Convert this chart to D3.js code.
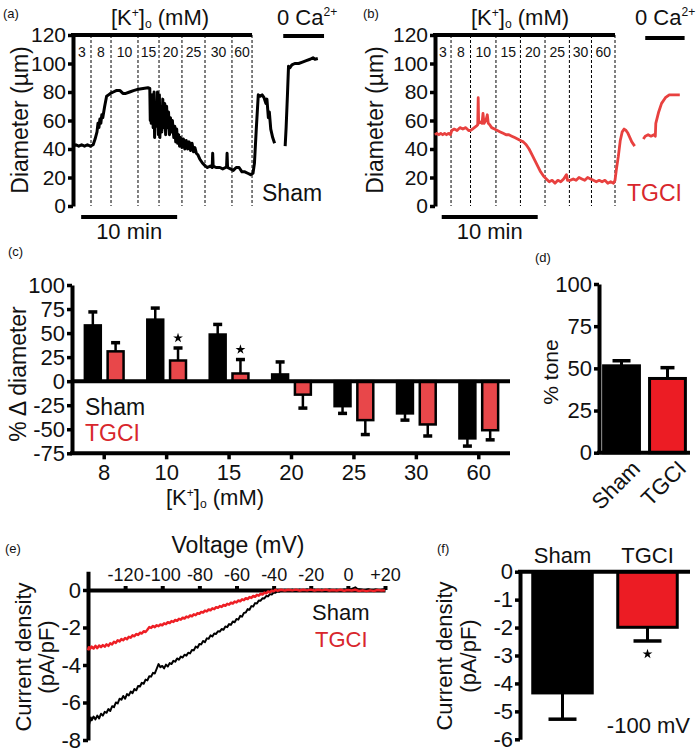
<!DOCTYPE html>
<html><head><meta charset="utf-8">
<script src="https://cdn.jsdelivr.net/npm/d3@7"></script>
<style>body{margin:0;background:#fff} text{font-family:Arial,"Liberation Sans",Helvetica,sans-serif}</style>
</head><body><svg id="c" width="700" height="752"></svg>
<script>
// ---------------- DATA ----------------
const kLabels = ["3","8","10","15","20","25","30","60"];
const kSwitchA = [1.875, 3.96, 6.77, 8.96, 11.35, 13.75, 16.56, 18.65];
const kSwitchB = [1.67, 3.7, 6.35, 8.9, 11.46, 14.0, 16.3, 18.75];
const caBarA = [21.9, 26.15];
const caBarB = [21.9, 26.0];
const tenMinA = [0.85, 10.85];
const tenMinB = [0.7, 10.7];
const diamTicks = [0,20,40,60,80,100,120];

// time (min), diameter (µm); null = gap
const shamTrace = [[0,42],[0.3,43],[0.6,42],[0.9,43],[1.2,42],[1.5,43],[1.8,42],[2.1,43],
 [2.3,47],[2.5,52],[2.6,58],[2.7,55],[2.8,61],[2.9,58],[3.0,64],[3.1,62],[3.3,70],[3.5,77],[3.7,78],[3.9,79],[4.2,80],[4.5,81],[4.9,81],[5.2,79],[5.5,79],[5.9,80],[6.3,81],[6.8,82],[7.3,82.5],[7.8,83],[8.0,82.5],
 [8.05,60],[8.1,75],[8.15,58],[8.25,78],[8.35,55],[8.45,80],[8.5,48],[8.6,72],[8.7,56],[8.8,80],[8.9,50],[9.0,78],[9.05,48],[9.15,70],[9.25,52],[9.35,75],[9.45,55],[9.55,72],[9.65,50],[9.75,70],[9.85,55],[9.95,66],[10.05,50],[10.15,62],[10.25,52],[10.35,60],[10.5,48],[10.6,56],[10.7,45],[10.8,54],[10.9,44],[11.0,50],[11.1,42],[11.2,48],[11.35,41],[11.5,47],[11.65,40],[11.8,46],[11.95,40],[12.1,45],[12.25,39],[12.4,44],[12.55,38],[12.7,41],[12.85,37],[13.0,36],[13.2,33],[13.5,30],[13.8,28],[14.0,27],[14.3,28],[14.5,27],[14.55,37],[14.6,28],[14.9,27],[15.3,27],[15.6,26],[15.9,27],[16.0,28],[16.05,37],[16.1,27],[16.4,26],[16.7,25],[17.0,27],[17.3,27],[17.6,24],[17.9,24],[18.2,23],[18.5,22],[18.75,23],[18.9,30],[19.1,55],[19.3,78],[19.5,77],[19.7,78],[19.9,76],[20.1,72],[20.2,75],[20.35,62],[20.45,66],[20.6,54],[20.8,48],[21.0,44],
 null,
 [22.1,42],[22.2,55],[22.35,80],[22.45,98],[22.6,97],[22.8,99],[23.1,100],[23.5,100],[23.9,101],[24.3,102],[24.7,103],[25.0,104],[25.2,103],[25.5,103.5]];

const tgciTrace = [[0,50],[0.2,51],[0.4,50],[0.6,51],[0.8,50],[1.0,51],[1.2,50],[1.4,51],[1.6,50],[1.75,53],[2.0,54],[2.3,53],[2.6,55],[2.9,54],[3.2,55],[3.5,53],[3.7,53],[3.9,54],[4.1,55],[4.3,56],[4.45,57],[4.5,76],[4.55,58],[4.7,59],[4.9,58],[5.0,65],[5.1,58],[5.3,60],[5.45,64],[5.55,58],[5.7,57],[5.9,55],[6.2,54],[6.5,53],[6.8,52],[7.1,51],[7.4,50],[7.7,50],[8.0,49],[8.3,48],[8.6,47],[8.9,46],[9.2,45],[9.5,43],[9.8,40],[10.1,36],[10.4,32],[10.7,28],[11.0,24],[11.3,21],[11.6,19],[11.9,17],[12.2,18],[12.5,16],[12.8,18],[13.1,17],[13.4,19],[13.7,22],[13.8,18],[14.1,18],[14.4,19],[14.7,18],[15.0,20],[15.3,19],[15.6,18],[15.9,20],[16.2,19],[16.5,18],[16.8,17],[17.1,18],[17.4,17],[17.7,18],[18.0,16],[18.3,17],[18.6,16],[18.75,18],[18.9,26],[19.1,35],[19.3,46],[19.5,52],[19.7,54],[19.9,53],[20.1,51],[20.3,48],[20.5,45],[20.8,42],
 null,
 [21.7,47],[21.9,49],[22.2,50],[22.5,49],[22.8,50],[22.95,49],[23.0,58],[23.3,66],[23.6,72],[24.0,76],[24.4,78],[24.8,78],[25.2,78],[25.5,78]];

// panel c
const kCats = ["8","10","15","20","25","30","60"];
const groups = ["Sham","TGCI"];
const shamDelta = [58, 64, 48.5, 7, -26, -33.5, -59.5];
const shamDeltaErr = [14, 12, 10.5, 13, 7.5, 7, 8];
const tgciDelta = [31, 21.5, 8, -14, -40.5, -45, -51];
const tgciDeltaErr = [9, 13, 14.5, 14, 15, 12, 10];
const tgciStar = ["10","15"];
const deltaTicks = [-75,-50,-25,0,25,50,75,100];

// panel d
const toneVals = [51.5, 44];
const toneErr = [3, 6.4];
const toneTicks = [0,25,50,75,100];

// panel e  (mV, pA/pF)
const ivSham = [[-140,-7.55],[-139.5,-7.2],[-139,-7.0],[-138.5,-6.8],[-138,-6.95],[-137,-6.75],[-136,-6.9],[-135,-6.7],[-134,-6.85],[-133,-6.6],[-132,-6.7],[-131,-6.5],[-130,-6.55],[-129,-6.35],[-128,-6.45],[-127,-6.2],[-126,-6.25],[-125,-6.0],[-124,-6.05],[-123,-5.8],[-122,-5.85],[-121,-5.65],[-120,-5.8],[-119,-5.55],[-118,-5.62],[-117,-5.42],[-116,-5.5],[-115,-5.28],[-114,-5.35],[-113,-5.12],[-112,-5.15],[-111,-4.95],[-110,-5.0],[-109,-4.78],[-108,-4.82],[-107,-4.6],[-106,-4.62],[-105,-4.42],[-104,-4.45],[-103,-4.2],[-102,-3.95],[-101,-4.12],[-100,-4.05],[-99,-4.18],[-98,-3.98],[-97,-4.08],[-96,-3.9],[-95,-3.95],[-94,-3.78],[-93,-3.82],[-92,-3.65],[-91,-3.72],[-90,-3.55],[-89,-3.6],[-88,-3.45],[-87,-3.5],[-86,-3.35],[-85,-3.38],[-84,-3.2],[-83,-3.22],[-82,-3.02],[-81,-3.08],[-80,-2.88],[-79,-2.9],[-78,-2.72],[-77,-2.78],[-76,-2.58],[-75,-2.6],[-74,-2.42],[-73,-2.48],[-72,-2.32],[-71,-2.35],[-70,-2.2],[-69,-2.22],[-68,-2.08],[-67,-2.12],[-66,-1.95],[-65,-1.98],[-64,-1.82],[-63,-1.86],[-62,-1.68],[-61,-1.72],[-60,-1.55],[-59,-1.58],[-58,-1.38],[-57,-1.42],[-56,-1.22],[-55,-1.2],[-54,-1.02],[-53,-1.05],[-52,-0.86],[-51,-0.88],[-50,-0.7],[-49,-0.72],[-48,-0.56],[-47,-0.57],[-46,-0.44],[-45,-0.45],[-44,-0.32],[-43,-0.34],[-42,-0.22],[-41,-0.24],[-40,-0.14],[-39,-0.15],[-38,-0.07],[-37,-0.09],[-36,-0.02],[-35,-0.05],[-34,0.01],[-32,-0.04],[-30,0.02],[-28,-0.03],[-26,0.02],[-24,-0.02],[-22,0.03],[-20,-0.02],[-18,0.02],[-16,-0.03],[-14,0.02],[-12,-0.02],[-10,0.03],[-8,-0.01],[-6,0.02],[-4,-0.02],[-2,0.03],[0,0.0],[2,0.06],[3,0.1],[4,0.14],[5,0.06],[7,0.03],[9,-0.01],[11,0.04],[13,-0.02],[15,0.03],[17,-0.01],[19,0.03],[20,0.02]];
const ivTgci = [[-140,-3.22],[-139.5,-3.05],[-139,-3.15],[-138,-3.02],[-137,-3.12],[-136,-2.98],[-135,-3.1],[-134,-2.96],[-133,-3.05],[-132,-2.94],[-131,-3.02],[-130,-2.9],[-129,-2.98],[-128,-2.84],[-127,-2.9],[-126,-2.76],[-125,-2.82],[-124,-2.68],[-123,-2.74],[-122,-2.62],[-121,-2.68],[-120,-2.56],[-119,-2.62],[-118,-2.5],[-117,-2.54],[-116,-2.42],[-115,-2.47],[-114,-2.35],[-113,-2.4],[-112,-2.28],[-111,-2.32],[-110,-2.2],[-109,-2.24],[-108,-2.12],[-107,-1.98],[-106,-2.02],[-105,-1.92],[-104,-1.98],[-103,-1.88],[-102,-1.93],[-101,-1.84],[-100,-1.88],[-99,-1.78],[-98,-1.82],[-97,-1.72],[-96,-1.76],[-95,-1.66],[-94,-1.7],[-93,-1.6],[-92,-1.64],[-91,-1.54],[-90,-1.58],[-89,-1.48],[-88,-1.52],[-87,-1.42],[-86,-1.46],[-85,-1.36],[-84,-1.4],[-83,-1.3],[-82,-1.34],[-81,-1.24],[-80,-1.27],[-79,-1.17],[-78,-1.2],[-77,-1.1],[-76,-1.14],[-75,-1.04],[-74,-1.08],[-73,-0.98],[-72,-1.02],[-71,-0.92],[-70,-0.95],[-69,-0.86],[-68,-0.9],[-67,-0.8],[-66,-0.84],[-65,-0.74],[-64,-0.78],[-63,-0.68],[-62,-0.72],[-61,-0.62],[-60,-0.66],[-59,-0.56],[-58,-0.6],[-57,-0.5],[-56,-0.54],[-55,-0.44],[-54,-0.48],[-53,-0.38],[-52,-0.42],[-51,-0.32],[-50,-0.36],[-49,-0.26],[-48,-0.3],[-47,-0.2],[-46,-0.24],[-45,-0.14],[-44,-0.18],[-43,-0.08],[-42,-0.12],[-41,-0.03],[-40,-0.07],[-39,0.01],[-38,-0.04],[-36,0.01],[-34,-0.03],[-32,0.01],[-30,-0.02],[-28,0.02],[-26,-0.03],[-24,0.01],[-22,-0.02],[-20,0.02],[-18,-0.03],[-16,0.01],[-14,-0.02],[-12,0.02],[-10,-0.03],[-8,0.0],[-6,-0.03],[-4,0.01],[-2,-0.04],[0,0.0],[2,-0.03],[4,0.01],[6,-0.05],[8,-0.02],[10,-0.06],[12,-0.02],[14,-0.05],[16,0.0],[18,-0.03],[20,-0.02]];
const voltTicks = [-120,-100,-80,-60,-40,-20,0,20];
const currTicksE = [0,-2,-4,-6,-8];

// panel f
const curr100 = [-4.34, -1.99];
const curr100Err = [0.94, 0.49];
const currTicksF = [0,-1,-2,-3,-4,-5,-6];

// ---------------- DRAW ----------------
const FONT = 'Arial, "Liberation Sans", sans-serif';
const RED_TXT = "#d8262c", RED_BAR_C = "#e8474a", RED_BAR = "#ec1c24", RED_TR = "#e8413f", RED_IV = "#ee1f25";
const svg = d3.select("#c");
const fmt = d => String(d);

function styleAxis(g, fs) {
  g.attr("font-size", fs).attr("font-family", FONT);
  g.select(".domain").attr("stroke-width", 4).attr("stroke", "#000");
  g.selectAll(".tick line").attr("stroke-width", 3.5).attr("stroke", "#000");
  g.selectAll(".tick text").attr("fill", "#111");
}
function txt(x, y, s, fs, opt = {}) {
  const t = svg.append("text").attr("x", x).attr("y", y).attr("font-size", fs)
    .attr("fill", opt.fill || "#111").attr("text-anchor", opt.anchor || "start").text(s);
  if (opt.rot) t.attr("transform", `rotate(${opt.rot},${x},${y})`);
  return t;
}
function kLabel(cx, y, fs) {
  const t = svg.append("text").attr("x", cx).attr("y", y).attr("font-size", fs)
    .attr("text-anchor", "middle").attr("fill", "#111");
  t.append("tspan").text("[K");
  t.append("tspan").attr("font-size", fs * 0.55).attr("dy", -fs * 0.38).text("+");
  t.append("tspan").attr("dy", fs * 0.38).text("]");
  t.append("tspan").attr("font-size", fs * 0.55).attr("dy", fs * 0.12).text("o");
  t.append("tspan").attr("dy", -fs * 0.12).text(" (mM)");
}
function caLabel(x, y, fs) {
  const t = svg.append("text").attr("x", x).attr("y", y).attr("font-size", fs).attr("fill", "#111");
  t.append("tspan").text("0 Ca");
  t.append("tspan").attr("font-size", fs * 0.55).attr("dy", -fs * 0.4).text("2+");
}

// ---- panels a & b ----
function tracePanel(o) {
  const x = d3.scaleLinear().domain([0, 26]).range([o.x0, o.x0 + 26 * 9.6]);
  const y = d3.scaleLinear().domain([0, 120]).range([206, 35]);
  const g = svg.append("g");
  g.selectAll("line.dash").data(o.switches).join("line")
    .attr("x1", d => x(d)).attr("x2", d => x(d)).attr("y1", y(120)).attr("y2", y(0))
    .attr("stroke", "#000").attr("stroke-width", 1).attr("stroke-dasharray", "3,2");
  g.selectAll("text.k").data(kLabels).join("text")
    .attr("x", (d, i) => x(((i ? o.switches[i - 1] : 0) + o.switches[i]) / 2)).attr("y", 57)
    .attr("text-anchor", "middle").attr("font-size", 14).attr("fill", "#111").text(d => d);
  const ax = g.append("g").attr("transform", `translate(${o.x0},0)`)
    .call(d3.axisLeft(y).tickValues(diamTicks).tickFormat(fmt).tickSize(5).tickPadding(2).tickSizeOuter(0));
  styleAxis(ax, 21);
  g.append("line").attr("x1", x(0) - 2).attr("x2", x(o.switches[7])).attr("y1", y(120)).attr("y2", y(120))
    .attr("stroke", "#000").attr("stroke-width", 4);
  g.append("line").attr("x1", x(o.ca[0])).attr("x2", x(o.ca[1])).attr("y1", o.caY).attr("y2", o.caY)
    .attr("stroke", "#000").attr("stroke-width", 4);
  g.append("line").attr("x1", x(o.ten[0])).attr("x2", x(o.ten[1])).attr("y1", 217).attr("y2", 217)
    .attr("stroke", "#000").attr("stroke-width", 4);
  const line = d3.line().defined(d => d).x(d => x(d[0])).y(d => y(d[1]));
  g.append("path").datum(o.data).attr("d", line).attr("fill", "none")
    .attr("stroke", o.color).attr("stroke-width", o.sw).attr("stroke-linejoin", "round");
  txt((x(o.ten[0]) + x(o.ten[1])) / 2, 239, "10 min", 22, { anchor: "middle" });
  kLabel(o.kx, 25, 22);
  caLabel(o.cax, 25, 22);
  txt(o.lx, 201, o.label, 23, { fill: o.lcol });
  txt(o.pl, 18, o.plabel, 13);
  txt(o.tx, 120, "Diameter (µm)", 23, { anchor: "middle", rot: -90 });
}
tracePanel({ x0: 73, switches: kSwitchA, ca: caBarA, caY: 36, ten: tenMinA, data: shamTrace, color: "#000", sw: 3,
  kx: 160, cax: 277, lx: 262, label: "Sham", lcol: "#111", pl: 3, plabel: "(a)", tx: 28 });
tracePanel({ x0: 435, switches: kSwitchB, ca: caBarB, caY: 38, ten: tenMinB, data: tgciTrace, color: RED_TR, sw: 2.8,
  kx: 520, cax: 635, lx: 627, label: "TGCI", lcol: RED_TXT, pl: 363, plabel: "(b)", tx: 383 });

// ---- panel c ----
{
  const y = d3.scaleLinear().domain([-75, 100]).range([453.3, 285]);
  const x0 = d3.scaleBand().domain(kCats).range([73, 510]).paddingInner(0.38).paddingOuter(0.19);
  const x1 = d3.scaleBand().domain(groups).range([0, x0.bandwidth()]).paddingInner(0.3);
  const rows = kCats.map((k, i) => [
    { k, gname: "Sham", v: shamDelta[i], e: shamDeltaErr[i] },
    { k, gname: "TGCI", v: tgciDelta[i], e: tgciDeltaErr[i] }]).flat();
  const g = svg.append("g");
  rows.forEach(d => {
    const cx = x0(d.k) + x1(d.gname) + x1.bandwidth() / 2;
    const end = d.v >= 0 ? d.v + d.e : d.v - d.e;
    g.append("line").attr("x1", cx).attr("x2", cx).attr("y1", y(d.v)).attr("y2", y(end))
      .attr("stroke", "#000").attr("stroke-width", 2.5);
    g.append("line").attr("x1", cx - 4.5).attr("x2", cx + 4.5).attr("y1", y(end)).attr("y2", y(end))
      .attr("stroke", "#000").attr("stroke-width", 3.5);
  });
  g.selectAll("rect").data(rows).join("rect")
    .attr("x", d => x0(d.k) + x1(d.gname)).attr("width", x1.bandwidth())
    .attr("y", d => y(Math.max(0, d.v))).attr("height", d => Math.abs(y(d.v) - y(0)))
    .attr("fill", d => d.gname === "Sham" ? "#000" : RED_BAR_C).attr("stroke", "#000").attr("stroke-width", 2.5);
  g.append("line").attr("x1", 72).attr("x2", 510).attr("y1", y(0)).attr("y2", y(0)).attr("stroke", "#000").attr("stroke-width", 4);
  rows.filter(d => d.gname === "TGCI" && tgciStar.includes(d.k)).forEach(d => {
    const cx = x0(d.k) + x1(d.gname) + x1.bandwidth() / 2;
    g.append("path").attr("d", d3.symbol(d3.symbolStar, 30)())
      .attr("transform", `translate(${cx},${y(d.v + d.e) - 10})`).attr("fill", "#000");
  });
  const ay = g.append("g").attr("transform", "translate(72,0)")
    .call(d3.axisLeft(y).tickValues(deltaTicks).tickFormat(fmt).tickSize(5).tickPadding(2).tickSizeOuter(0));
  styleAxis(ay, 22);
  const ax = g.append("g").attr("transform", `translate(0,${y(-75)})`)
    .call(d3.axisBottom(x0).tickSize(6).tickPadding(5).tickSizeOuter(0));
  styleAxis(ax, 22);
  ax.select(".domain").attr("d", `M70,0H510`);
  txt(85, 415, "Sham", 23);
  txt(85, 441, "TGCI", 23, { fill: RED_TXT });
  kLabel(215, 505, 22);
  txt(26, 374, "% Δ diameter", 23, { anchor: "middle", rot: -90 });
  txt(8, 256, "(c)", 13);
}

// ---- panel d ----
{
  const y = d3.scaleLinear().domain([0, 100]).range([452.7, 284]);
  const x = d3.scaleBand().domain(groups).range([599, 690]).paddingInner(0.22).paddingOuter(0.1);
  const g = svg.append("g");
  groups.forEach((gn, i) => {
    const cx = x(gn) + x.bandwidth() / 2, top = toneVals[i] + toneErr[i];
    g.append("line").attr("x1", cx).attr("x2", cx).attr("y1", y(toneVals[i])).attr("y2", y(top)).attr("stroke", "#000").attr("stroke-width", 3);
    g.append("line").attr("x1", cx - (i ? 7 : 9)).attr("x2", cx + (i ? 7 : 9)).attr("y1", y(top)).attr("y2", y(top)).attr("stroke", "#000").attr("stroke-width", 3.5);
  });
  g.selectAll("rect").data(groups).join("rect")
    .attr("x", d => x(d)).attr("width", x.bandwidth())
    .attr("y", (d, i) => y(toneVals[i])).attr("height", (d, i) => y(0) - y(toneVals[i]))
    .attr("fill", (d, i) => i ? RED_BAR : "#000").attr("stroke", "#000").attr("stroke-width", 3);
  const ay = g.append("g").attr("transform", "translate(599,0)")
    .call(d3.axisLeft(y).tickValues(toneTicks).tickFormat(fmt).tickSize(5).tickPadding(2).tickSizeOuter(0));
  styleAxis(ay, 22);
  g.append("line").attr("x1", 597).attr("x2", 690).attr("y1", y(0)).attr("y2", y(0)).attr("stroke", "#000").attr("stroke-width", 4);
  groups.forEach(gn => {
    const cx = x(gn) + x.bandwidth() / 2 + 20;
    txt(cx, 470, gn, 22, { anchor: "end", rot: -45 });
  });
  txt(558, 372, "% tone", 21, { anchor: "middle", rot: -90 });
  txt(535, 262, "(d)", 13);
}

// ---- panel e ----
{
  const x = d3.scaleLinear().domain([-140, 20]).range([88, 385]);
  const y = d3.scaleLinear().domain([-8, 1]).range([740, 571.25]);
  const g = svg.append("g");
  const line = d3.line().x(d => x(d[0])).y(d => y(d[1]));
  const ax = g.append("g").attr("transform", `translate(0,${y(0)})`)
    .call(d3.axisTop(x).tickValues(voltTicks).tickFormat(d => d > 0 ? "+" + d : String(d)).tickSize(4).tickPadding(5).tickSizeOuter(0));
  styleAxis(ax, 18);
  ax.selectAll(".tick line").attr("stroke-width", 4);
  const ay = g.append("g").attr("transform", "translate(88,0)")
    .call(d3.axisLeft(y).tickValues(currTicksE).tickFormat(fmt).tickSize(5).tickPadding(2).tickSizeOuter(0));
  styleAxis(ay, 22);
  g.append("path").datum(ivSham).attr("d", line).attr("fill", "none").attr("stroke", "#000").attr("stroke-width", 2).attr("stroke-linejoin", "round");
  g.append("path").datum(ivTgci).attr("d", line).attr("fill", "none").attr("stroke", RED_IV).attr("stroke-width", 2.5).attr("stroke-linejoin", "round");
  txt(238, 553, "Voltage (mV)", 23, { anchor: "middle" });
  txt(312, 620, "Sham", 22);
  txt(315, 647, "TGCI", 22, { fill: RED_TXT });
  txt(31, 657, "Current density", 22, { anchor: "middle", rot: -90 });
  txt(54, 657, "(pA/pF)", 22, { anchor: "middle", rot: -90 });
  txt(5, 553, "(e)", 13);
}

// ---- panel f ----
{
  const y = d3.scaleLinear().domain([-6, 0]).range([739.3, 571.7]);
  const x = d3.scaleBand().domain(groups).range([520, 690]).paddingInner(0.3).paddingOuter(0.15);
  const g = svg.append("g");
  groups.forEach((gn, i) => {
    const cx = x(gn) + x.bandwidth() / 2, bot = curr100[i] - curr100Err[i];
    g.append("line").attr("x1", cx).attr("x2", cx).attr("y1", y(curr100[i])).attr("y2", y(bot)).attr("stroke", "#000").attr("stroke-width", 3);
    g.append("line").attr("x1", cx - 14).attr("x2", cx + 14).attr("y1", y(bot)).attr("y2", y(bot)).attr("stroke", "#000").attr("stroke-width", 3.5);
  });
  g.selectAll("rect").data(groups).join("rect")
    .attr("x", d => x(d)).attr("width", x.bandwidth())
    .attr("y", y(0)).attr("height", (d, i) => y(curr100[i]) - y(0))
    .attr("fill", (d, i) => i ? RED_BAR : "#000").attr("stroke", "#000").attr("stroke-width", 3);
  g.append("line").attr("x1", 518).attr("x2", 690).attr("y1", y(0)).attr("y2", y(0)).attr("stroke", "#000").attr("stroke-width", 4);
  const ay = g.append("g").attr("transform", "translate(520,0)")
    .call(d3.axisLeft(y).tickValues(currTicksF).tickFormat(fmt).tickSize(5).tickPadding(2).tickSizeOuter(0));
  styleAxis(ay, 22);
  const cx1 = x("TGCI") + x.bandwidth() / 2;
  g.append("path").attr("d", d3.symbol(d3.symbolStar, 30)())
    .attr("transform", `translate(${cx1},${y(curr100[1] - curr100Err[1]) + 13})`).attr("fill", "#000");
  groups.forEach(gn => txt(x(gn) + x.bandwidth() / 2, 563, gn, 22, { anchor: "middle" }));
  txt(690, 733, "-100 mV", 22, { anchor: "end" });
  txt(452, 656, "Current density", 22, { anchor: "middle", rot: -90 });
  txt(476, 656, "(pA/pF)", 22, { anchor: "middle", rot: -90 });
  txt(437, 553, "(f)", 13);
}
</script></body></html>
